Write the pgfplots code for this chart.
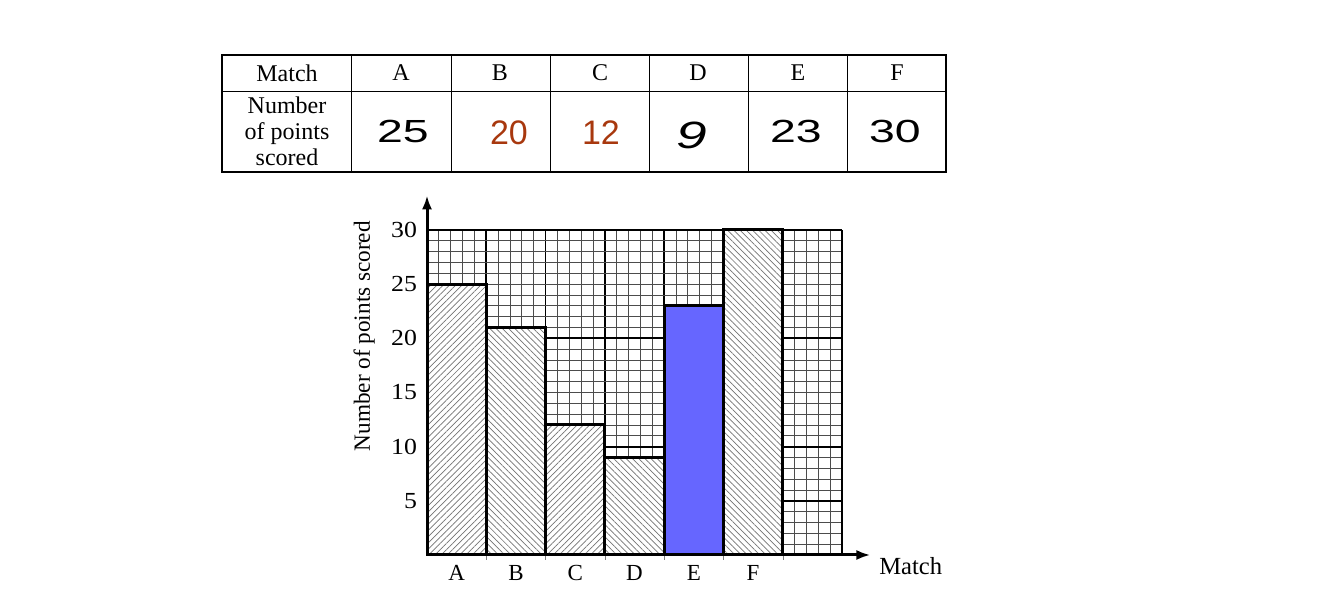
\documentclass[border=0pt]{standalone}
\usepackage{pgfplots}
\pgfplotsset{compat=1.18}
\usepackage{fontspec}
\setmainfont{Liberation Serif}
\newfontfamily\hand[FakeStretch=1.45]{Liberation Sans}
\newfontfamily\redf{Liberation Sans}
\newfontfamily\ytfont[FakeStretch=1.12]{Liberation Serif}
\usetikzlibrary{patterns.meta,arrows.meta}
\definecolor{barblue}{HTML}{6666FF}
\definecolor{redv}{HTML}{A8380E}
\begin{document}
\begin{tikzpicture}
\path[use as bounding box] (0,0) rectangle (662pt,302pt);
\begin{scope}[x=0.5pt,y=-0.5pt,yshift=302pt]
  \draw[line width=0.7pt] (222,55) rectangle (946,172);
  \draw[line width=0.5pt] (222,92) -- (946,92);
  \foreach \x in {351,451,550,649,748,847} \draw[line width=0.5pt] (\x,55)--(\x,172);
  \node[font=\fontsize{12}{13}\selectfont] at (287,73) {Match};
  \node[font=\fontsize{12}{13}\selectfont] at (401,73) {A};
  \node[font=\fontsize{12}{13}\selectfont] at (500,73) {B};
  \node[font=\fontsize{12}{13}\selectfont] at (600,73) {C};
  \node[font=\fontsize{12}{13}\selectfont] at (698,73) {D};
  \node[font=\fontsize{12}{13}\selectfont] at (798,73) {E};
  \node[font=\fontsize{12}{13}\selectfont] at (897,73) {F};
  \node[font=\fontsize{12}{13}\selectfont, align=center, inner sep=0pt] at (287,131) {Number\\of points\\scored};
  \node[font=\hand\fontsize{16}{16}\selectfont] at (403,131) {25};
  \node[font=\redf\fontsize{17}{18}\selectfont, text=redv] at (509,133) {20};
  \node[font=\redf\fontsize{17}{18}\selectfont, text=redv] at (601,133) {12};
  \node[font=\hand\itshape\fontsize{19}{19}\selectfont] at (692,135) {9};
  \node[font=\hand\fontsize{16}{16}\selectfont] at (796,131) {23};
  \node[font=\hand\fontsize{16}{16}\selectfont] at (895,131) {30};
\end{scope}
\begin{axis}[
  at={(213.5pt,24.5pt)}, anchor=south west,
  scale only axis, width=207.5pt, height=162.5pt,
  xmin=0, xmax=7, ymin=0, ymax=30,
  axis x line=bottom, axis y line=left,
  axis line style={line width=1.5pt,-},
  xtick={1,...,6}, xticklabels={},
  minor xtick={0,0.2,0.4,0.6,0.8,1,1.2,1.4,1.6,1.8,2,2.2,2.4,2.6,2.8,3,3.2,3.4,3.6,3.8,4,4.2,4.4,4.6,4.8,5,5.2,5.4,5.6,5.8,6,6.2,6.4,6.6,6.8},
  ytick={5,10,...,30},
  minor ytick={1,...,29},
  grid=both,
  major x grid style={line width=0.9pt,black},
  major y grid style={line width=0.4pt,black!70},
  minor grid style={line width=0.4pt,black!70},
  tick align=outside,
  major tick length=2.5pt, minor tick length=0pt,
  ytick style={draw=none},
  extra x ticks={0.5,1.5,2.5,3.5,4.5,5.5},
  extra x tick labels={A,B,C,D,E,F},
  extra x tick style={grid=none, major tick length=0pt},
  xticklabel style={font=\fontsize{11.5}{12}\selectfont, yshift=-1.5pt},
  yticklabel style={font=\ytfont\fontsize{11.5}{12}\selectfont, xshift=1pt},
  /pgf/number format/assume math mode=true,
  clip=false,
]
\draw[line width=0.9pt] (axis cs:2,20) -- (axis cs:7,20);
\draw[line width=0.9pt] (axis cs:2,10) -- (axis cs:7,10);
\draw[line width=0.9pt] (axis cs:6,5) -- (axis cs:7,5);
\draw[line width=1pt] (axis cs:0,30) -- (axis cs:7,30);
\draw[line width=1pt] (axis cs:7,0) -- (axis cs:7,30);
\addplot[ybar, bar width=1, bar shift=0pt, draw=black, line width=1.5pt, fill=white,
  postaction={pattern={Lines[angle=45,distance=2.2pt,line width=0.35pt]}, pattern color=black!55}]
  coordinates {(0.5,25)};
\addplot[ybar, bar width=1, bar shift=0pt, draw=black, line width=1.5pt, fill=white,
  postaction={pattern={Lines[angle=-45,distance=2.2pt,line width=0.35pt]}, pattern color=black!55}]
  coordinates {(1.5,21)};
\addplot[ybar, bar width=1, bar shift=0pt, draw=black, line width=1.5pt, fill=white,
  postaction={pattern={Lines[angle=45,distance=2.2pt,line width=0.35pt]}, pattern color=black!55}]
  coordinates {(2.5,12)};
\addplot[ybar, bar width=1, bar shift=0pt, draw=black, line width=1.5pt, fill=white,
  postaction={pattern={Lines[angle=-45,distance=2.2pt,line width=0.35pt]}, pattern color=black!55}]
  coordinates {(3.5,9)};
\addplot[ybar, bar width=1, bar shift=0pt, draw=black, line width=1.5pt, fill=barblue]
  coordinates {(4.5,23)};
\addplot[ybar, bar width=1, bar shift=0pt, draw=black, line width=1.5pt, fill=white,
  postaction={pattern={Lines[angle=-45,distance=2.2pt,line width=0.35pt]}, pattern color=black!55}]
  coordinates {(5.5,30)};
\draw[line width=1.5pt,-{Latex[length=7pt,width=5pt]}] (axis cs:0,29) -- (axis cs:0,33.2);
\draw[line width=1.5pt,-{Latex[length=7pt,width=5pt]}] (axis cs:6.9,0) -- (axis cs:7.48,0);
\node[rotate=90, font=\fontsize{11.6}{12}\selectfont] at (axis cs:-1.06,20.2) {Number of points scored};
\node[font=\fontsize{12.3}{13}\selectfont] at (axis cs:8.16,-1.0) {Match};
\end{axis}
\end{tikzpicture}
\end{document}
